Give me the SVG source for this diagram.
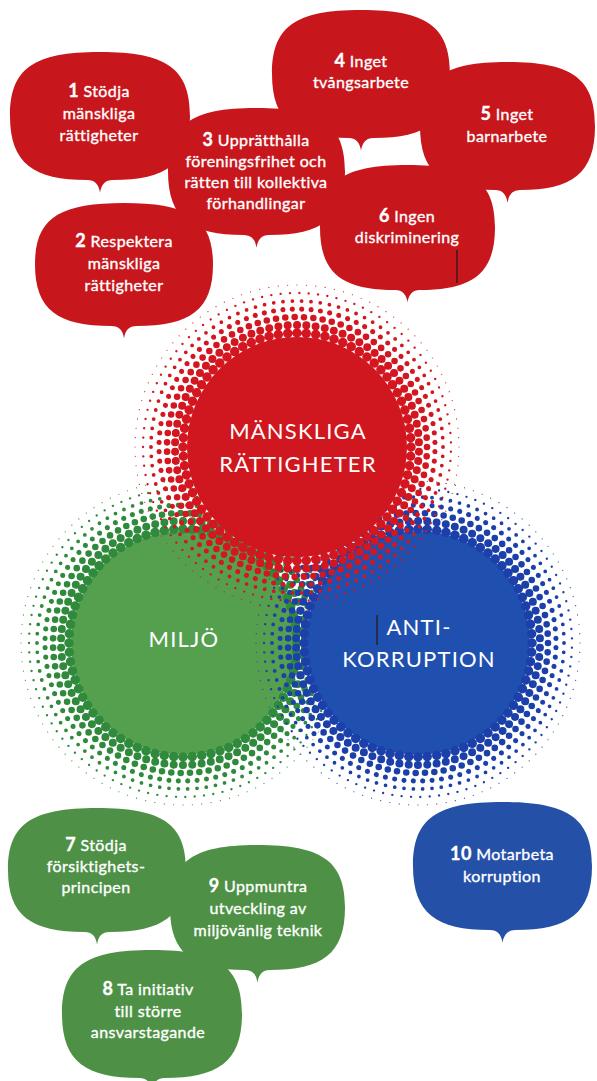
<svg xmlns="http://www.w3.org/2000/svg" xmlns:xlink="http://www.w3.org/1999/xlink" width="597" height="1081" viewBox="0 0 597 1081">
<defs>
<path id="bub" d="M50,0 C87,0 100,13 100,50 C100,87 87,100 57,100 Q51,100 50,110 Q49,100 43,100 C13,100 0,87 0,50 C0,13 13,0 50,0 Z"/>
<g id="halo" fill="none" stroke-dasharray="0 1" stroke-linecap="round">
<circle r="114" pathLength="76" stroke-width="9.5"/>
<circle r="122" pathLength="82" stroke-width="8" transform="rotate(2.2)"/>
<circle r="130" pathLength="87" stroke-width="6.6"/>
<circle r="138" pathLength="92" stroke-width="5.2" transform="rotate(1.95)"/>
<circle r="146" pathLength="98" stroke-width="3.8"/>
<circle r="154" pathLength="103" stroke-width="2.4" transform="rotate(1.75)"/>
<circle r="162" pathLength="108" stroke-width="1.2"/>
</g>
</defs>
<style>
.bt{font-family:Lato,"Open Sans","Liberation Sans",sans-serif;font-size:16px;fill:#fff;stroke:#fff;stroke-width:0.35px;text-anchor:middle;letter-spacing:0.4px}
.num{font-weight:700;font-size:18px}
.ct{font-family:Lato,"Open Sans","Liberation Sans",sans-serif;font-size:22px;fill:#fff;text-anchor:middle;letter-spacing:1.2px}
.red{fill:#c8161d}
.green{fill:#4e9146}
.blue{fill:#2450a8}
.rd{stroke:#d3161f}
.gd{stroke:#2f8a3c}
.bd{stroke:#1c40aa}
.art{stroke:#2a1a1a;stroke-width:1.3}
</style>
<rect width="597" height="1081" fill="#fff"/>

<g id="circle-miljo">
<circle cx="183" cy="643" r="112" fill="#55a04f"/>
<g class="gd" transform="translate(183,643)"><use xlink:href="#halo"/></g>
<text class="ct" x="184" y="647">MILJÖ</text>
</g>

<g id="circle-antikorruption">
<circle cx="418" cy="643" r="112" fill="#1f50b0"/>
<g class="bd" transform="translate(418,643)"><use xlink:href="#halo"/></g>
<text class="ct" x="419" y="635">ANTI-</text>
<text class="ct" x="419" y="667">KORRUPTION</text>
<line class="art" x1="377" y1="615" x2="377" y2="645"/>
</g>

<g id="circle-manskliga">
<circle cx="297" cy="447" r="110" fill="#d0161e"/>
<g class="rd" transform="translate(297,447)"><use xlink:href="#halo"/></g>
<text class="ct" x="298" y="439">MÄNSKLIGA</text>
<text class="ct" x="298" y="472">RÄTTIGHETER</text>
</g>

<g id="p1">
<use xlink:href="#bub" class="red" transform="translate(10,52) scale(1.80,1.28)"/>
<text class="bt" x="99" y="97"><tspan class="num">1</tspan> Stödja</text>
<text class="bt" x="99" y="119">mänskliga</text>
<text class="bt" x="99" y="141">rättigheter</text>
</g>
<g id="p2">
<use xlink:href="#bub" class="red" transform="translate(35,203) scale(1.78,1.23)"/>
<text class="bt" x="124" y="247"><tspan class="num">2</tspan> Respektera</text>
<text class="bt" x="124" y="269">mänskliga</text>
<text class="bt" x="124" y="291">rättigheter</text>
</g>
<g id="p3">
<use xlink:href="#bub" class="red" transform="translate(168,108) scale(1.77,1.27)"/>
<text class="bt" x="256" y="146"><tspan class="num">3</tspan> Upprätthålla</text>
<text class="bt" x="256" y="167">föreningsfrihet och</text>
<text class="bt" x="256" y="188">rätten till kollektiva</text>
<text class="bt" x="256" y="209">förhandlingar</text>
</g>
<g id="p4">
<use xlink:href="#bub" class="red" transform="translate(272,10) scale(1.78,1.28)"/>
<text class="bt" x="361" y="67"><tspan class="num">4</tspan> Inget</text>
<text class="bt" x="361" y="88">tvångsarbete</text>
</g>
<g id="p5">
<use xlink:href="#bub" class="red" transform="translate(420,62) scale(1.75,1.28)"/>
<text class="bt" x="507" y="120"><tspan class="num">5</tspan> Inget</text>
<text class="bt" x="507" y="142">barnarbete</text>
</g>
<g id="p6">
<use xlink:href="#bub" class="red" transform="translate(320,165) scale(1.75,1.25)"/>
<text class="bt" x="407" y="222"><tspan class="num">6</tspan> Ingen</text>
<text class="bt" x="407" y="243">diskriminering</text>
<line class="art" x1="457" y1="250" x2="457" y2="283"/>
</g>

<g id="p7">
<use xlink:href="#bub" class="green" transform="translate(8,808) scale(1.78,1.24)"/>
<text class="bt" x="96" y="851"><tspan class="num">7</tspan> Stödja</text>
<text class="bt" x="96" y="872">försiktighets-</text>
<text class="bt" x="96" y="893">principen</text>
</g>
<g id="p9">
<use xlink:href="#bub" class="green" transform="translate(170,845) scale(1.75,1.25)"/>
<text class="bt" x="258" y="892"><tspan class="num">9</tspan> Uppmuntra</text>
<text class="bt" x="258" y="914">utveckling av</text>
<text class="bt" x="258" y="936">miljövänlig teknik</text>
</g>
<g id="p8">
<use xlink:href="#bub" class="green" transform="translate(62,950) scale(1.80,1.28)"/>
<text class="bt" x="148" y="995"><tspan class="num">8</tspan> Ta initiativ</text>
<text class="bt" x="148" y="1017">till större</text>
<text class="bt" x="148" y="1038">ansvarstagande</text>
</g>

<g id="p10">
<use xlink:href="#bub" class="blue" transform="translate(413,802) scale(1.79,1.28)"/>
<text class="bt" x="502" y="860"><tspan class="num">10</tspan> Motarbeta</text>
<text class="bt" x="502" y="882">korruption</text>
</g>
</svg>
